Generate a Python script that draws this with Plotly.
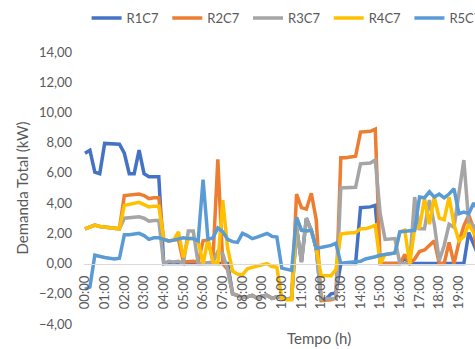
import plotly.graph_objects as go

# 15-minute time slots (00:00 onwards)
times = [f"{h:02d}:{m:02d}" for h in range(24) for m in (0, 15, 30, 45)][:81]
hour_ticks = times[::4]

r1c7 = [7.3, 7.5, 6.05, 5.95, 7.95, 7.95, 7.95, 7.9, 7.3, 5.95, 5.95, 7.5, 5.95, 5.75, 5.75, 5.75,
        0, 0, 0, 0, 0, 0, 0, 0, 0, 0, 0, 0, 0, 0,
        -2.0, -2.1, -2.25, -2.2, -2.1, -2.3, -2.15, -2.1, -2.3, -2.2, -2.3, -2.35, -2.3, 2.4, 0.1, 3.0, 2.2, 1.0,
        -2.35, -2.35, -2.0, -1.95,
        0, 0, 0, 0,
        3.7, 3.7, 3.75, 3.85,
        0, 0, 0, 0, 0,
        0.35,
        0, 0, 0, 0, 0, 0, 0, 0, 0, 0, 0, 0,
        2.05, 1.3, 0.5]

r2c7 = [2.3, 2.45, 2.55, 2.45, 2.4, 2.35, 2.3, 2.3,
        4.5, 4.55, 4.55, 4.6, 4.5, 4.3, 4.35, 4.35,
        1.6, 1.5, 1.55, 1.6, 0.1, 0.15, 0.15, 0.1, 1.5, 1.55, 0.2, 6.9, 0.0, -0.4,
        -2.0, -2.1, -2.25, -2.2, -2.1, -2.3, -2.15, -2.1, -2.3, -2.2, -2.3, -2.35, -2.3,
        4.6, 3.7, 3.6, 4.65, 2.9,
        -2.45, -2.45, -2.4, -2.3,
        7.0, 7.0, 7.05, 7.1, 8.7, 8.75, 8.75, 8.9,
        0, 0, 0, 0, 0,
        0.6, 0.0, 0.3, 0.8, 0.9, 1.2, 1.5, 0.0, 0.0, 1.4, 0.0, 1.4, 2.5, 3.2, 2.3, 0.0]

r3c7 = [2.3, 2.45, 2.55, 2.45, 2.4, 2.35, 2.3, 2.3,
        3.0, 3.05, 3.05, 3.1, 3.0, 2.8, 2.85, 2.85,
        0.0, 0.15, 0.1, 0.15, 0.0, 2.15, 2.15, 0.0, 0.0, 0.05, 0.1, 0.8, 0.65, -0.4,
        -2.0, -2.1, -2.25, -2.2, -2.1, -2.3, -2.15, -2.1, -2.3, -2.2, -2.3, -2.35, -2.3, 2.4, 0.1, 3.0, 2.2, 1.0,
        -2.35, -2.35, -2.35, -2.3,
        5.0, 5.0, 5.0, 5.05, 6.6, 6.6, 6.65, 6.85,
        3.3, 1.6, 1.6, 1.65, 0.0, 0.0, 0.0, 4.4, 2.3, 2.3, 4.2, 2.6, 0.2, 1.2, 2.6, 2.4, 4.5, 6.85, 2.7, 2.5, 2.0]

r4c7 = [2.3, 2.45, 2.55, 2.45, 2.4, 2.35, 2.3, 2.3,
        3.85, 3.9, 3.95, 4.05, 3.9, 3.75, 3.8, 3.8,
        1.6, 1.5, 1.55, 2.1, 0.4, 1.65, 1.65, 1.5, 0.0, 1.6, 0.1, 0.0, 4.2, 1.0,
        -0.5, -0.7, -0.75, -0.35, -0.25, -0.15, -0.05, 0.0, -0.2, -0.25, -2.3, -2.4, -2.4,
        3.05, 2.2, 2.15, 2.2, 1.0,
        -0.8, -0.8, -0.8, -0.4,
        1.95, 2.0, 2.0, 2.05, 2.3, 2.3, 2.4, 2.55,
        0.0, 0.6, 0.65, 0.7, 2.1, 2.2, 0.0, 2.3, 2.4, 4.3, 2.6, 4.4, 3.0, 2.9, 4.4, 2.6, 1.5, 1.8, 2.6, 2.0, 1.5]

r5c7 = [-1.7, -1.55, 0.55, 0.45, 0.4, 0.35, 0.3, 0.35,
        1.9, 1.9, 1.95, 2.0, 1.85, 1.6, 1.7, 1.7,
        1.6, 1.5, 1.55, 1.6, 1.7, 1.65, 1.65, 1.5, 5.55, 1.6, 1.7, 2.35, 2.1, 1.6,
        1.45, 1.4, 2.0, 1.85, 1.65, 1.75, 1.85, 2.0, 1.8, 1.75, -0.3, -0.4, -0.45,
        3.05, 2.2, 2.15, 2.2, 1.0,
        1.05, 1.1, 1.2, 1.35,
        0.0, 0.05, 0.1, 0.1, 0.15, 0.3, 0.35, 0.45,
        0.55, 0.6, 0.65, 0.7, 2.1, 2.15, 2.2, 2.2, 4.4, 4.35, 4.75, 4.4, 4.6, 4.35, 4.6, 4.95, 3.3, 3.4, 3.3, 4.0, 3.5]

series_names = ["R1C7", "R2C7", "R3C7", "R4C7", "R5C7"]
series_values = [r1c7, r2c7, r3c7, r4c7, r5c7]
series_colors = ["#4472C4", "#ED7D31", "#A5A5A5", "#FFC000", "#5B9BD5"]

y_min, y_max = -4, 14

fig = go.Figure()
for name, vals, color in zip(series_names, series_values, series_colors):
    fig.add_trace(go.Scatter(x=times, y=vals, name=name, mode="lines",
                             line=dict(color=color, width=3.5)))

text_color = "#595959"
fig.update_layout(
    width=475, height=349,
    margin=dict(l=84, r=0, t=52, b=25, autoexpand=False),
    paper_bgcolor="white", plot_bgcolor="white",
    font=dict(family="Lato", size=13, color=text_color),
    separators=", ",
    showlegend=True,
    legend=dict(orientation="h", x=-0.001, xanchor="left", y=1.125, yanchor="middle",
                entrywidth=32.7, indentation=3, traceorder="normal",
                font=dict(size=13, color=text_color), bgcolor="rgba(0,0,0,0)"),
    xaxis=dict(type="category", range=[-0.2, 79.27], tickmode="array",
               tickvals=hour_ticks, ticktext=hour_ticks, tickangle=-90,
               showgrid=False, zeroline=False, showline=True, linecolor="#D9D9D9",
               linewidth=1, ticks="", anchor="free",
               position=(0 - y_min) / (y_max - y_min), ticklabelstandoff=6,
               tickfont=dict(size=13, color=text_color)),
    yaxis=dict(range=[y_min, y_max], dtick=2, tickformat=".2f", showgrid=False,
               zeroline=False, showline=False, ticks="", ticklabelstandoff=11,
               tickfont=dict(size=13, color=text_color),
               title=dict(text="Demanda Total (kW)", font=dict(size=15, color=text_color),
                          standoff=6)),
    annotations=[dict(text="Tempo (h)", xref="paper", yref="paper", x=0.602, y=-0.0526,
                      xanchor="center", yanchor="middle", showarrow=False,
                      font=dict(size=15, color=text_color))],
)

fig.write_html("out.html")
